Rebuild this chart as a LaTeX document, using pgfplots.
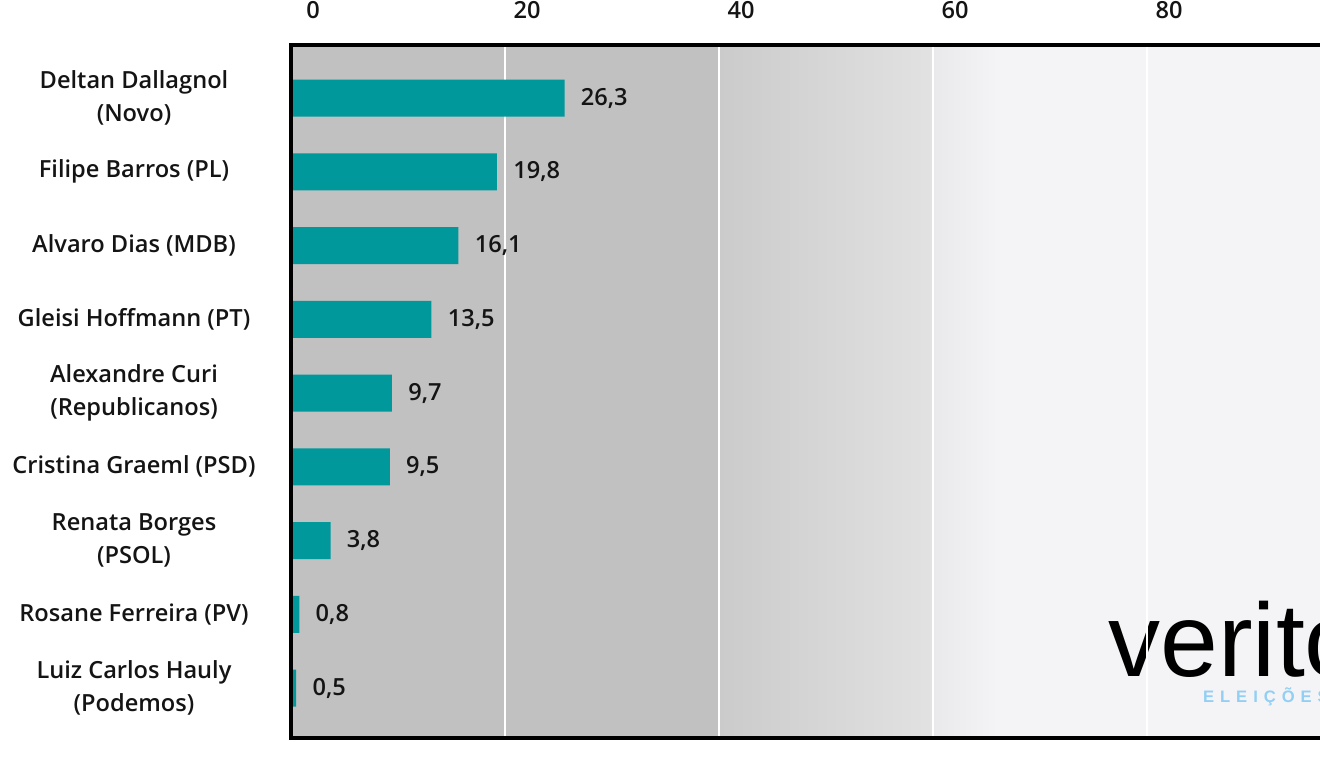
\documentclass[border=0pt]{standalone}
\usepackage{pgfplots}
\pgfplotsset{compat=1.18}
\usepackage{pgfplotstable}
\usepackage{fontspec}
\IfFontExistsTF{Open Sans Semibold}{\setmainfont{Open Sans Semibold}}{%
 \IfFontExistsTF{Noto Sans SemiBold}{\setmainfont{Noto Sans SemiBold}}{%
  \setmainfont{Open Sans}[RawFeature={embolden=1.2}]}}
\newfontfamily\logofont{Liberation Sans}
\newfontfamily\logosmall{Liberation Sans}[LetterSpace=36]
\definecolor{barteal}{RGB}{0,152,155}
\definecolor{bgA}{RGB}{193,193,193}
\definecolor{bgB}{RGB}{203,203,203}
\definecolor{bgC}{RGB}{226,226,227}
\definecolor{bgD}{RGB}{233,233,235}
\definecolor{bgE}{RGB}{244,244,246}
\definecolor{logoblue}{RGB}{145,207,245}
\definecolor{txt}{RGB}{20,20,20}
\pgfplotsset{/pgf/number format/assume math mode=true}

\pgfplotstableread{
val idx
26.3 0
19.8 1
16.1 2
13.5 3
9.7 4
9.5 5
3.8 6
0.8 7
0.5 8
}\datatable

\begin{document}
\begin{tikzpicture}
\begin{axis}[
  at={(145.5pt,15pt)}, anchor=south west,
  scale only axis, width=535pt, height=346.5pt,
  xmin=0, xmax=100, ymin=-0.719, ymax=8.678, y dir=reverse,
  axis on top,
  xtick={0,20,40,60,80},
  xticklabel pos=upper,
  xmajorgrids,
  major grid style={white, line width=1.3pt},
  ytick={0,1,2,3,4,5,6,7,8},
  yticklabels={{Deltan Dallagnol\\(Novo)},{Filipe Barros (PL)},{Alvaro Dias (MDB)},{Gleisi Hoffmann (PT)},{Alexandre Curi\\(Republicanos)},{Cristina Graeml (PSD)},{Renata Borges\\(PSOL)},{Rosane Ferreira (PV)},{Luiz Carlos Hauly\\(Podemos)}},
  major tick length=0pt,
  axis line style={black, line width=1.6pt},
  tick label style={font=\fontsize{11.8}{16.5}\selectfont, text=txt},
  xticklabel style={anchor=center, yshift=17.5pt, xshift=11pt},
  yticklabel style={anchor=center, align=center, xshift=-78.5pt},
]
\fill[bgA] (axis cs:0,-0.719) rectangle (axis cs:40.1,8.678);
\shade[left color=bgB, right color=bgC] (axis cs:40,-0.719) rectangle (axis cs:60.1,8.678);
\shade[left color=bgD, right color=bgE] (axis cs:60,-0.719) rectangle (axis cs:66,8.678);
\fill[bgE] (axis cs:65.95,-0.719) rectangle (axis cs:100,8.678);
\node[anchor=base west, inner sep=0pt, font=\logofont\fontsize{52}{52}\selectfont, text=black] at (axis cs:76.36,7.85) {verito};
\node[anchor=base west, inner sep=0pt, font=\logosmall\bfseries\fontsize{8.3}{8.3}\selectfont, text=logoblue] at (axis cs:85.2,8.19) {ELEIÇÕES};
\end{axis}
\begin{axis}[
  at={(145.5pt,15pt)}, anchor=south west,
  scale only axis, width=520pt, height=346.5pt,
  xmin=0, xmax=100, ymin=-0.719, ymax=8.678, y dir=reverse,
  axis x line=none, axis y line*=left,
  axis line style={black, line width=1.6pt},
  xtick=\empty, ytick=\empty,
  axis on top, clip=false,
  xbar, bar width=18.5pt,
  nodes near coords={\pgfmathprintnumber[use comma,fixed,fixed zerofill,precision=1]{\pgfplotspointmeta}},
  nodes near coords style={anchor=west, inner sep=0pt, xshift=8pt, font=\fontsize{11.8}{14}\selectfont, text=txt},
]
\addplot[fill=barteal, draw=none] table[x=val, y=idx] {\datatable};
\end{axis}
\pgfresetboundingbox
\useasboundingbox (0,0) rectangle (660pt,384pt);
\end{tikzpicture}
\end{document}
